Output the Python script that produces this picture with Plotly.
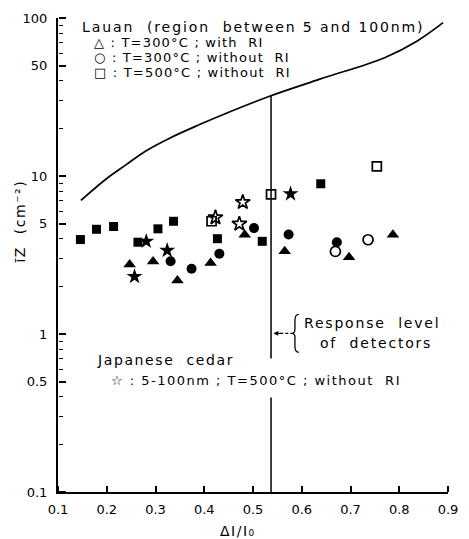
import plotly.graph_objects as go

# Envelope curve (upper bound, Lauan)
curve_x = [0.147, 0.200, 0.240, 0.280, 0.328, 0.388, 0.454, 0.534, 0.637, 0.770, 0.837, 0.890]
curve_y = [7.0, 9.64, 11.8, 14.4, 17.3, 21.0, 25.6, 32.0, 41.0, 56.1, 71.6, 93.4]

# Detector response level
detector_x = 0.537
detector_top = 32.3
detector_gap = [0.70, 0.396]

# Lauan, T=300°C with RI (filled triangles)
tri_x = [0.247, 0.295, 0.345, 0.413, 0.483, 0.565, 0.697, 0.787]
tri_y = [2.75, 2.88, 2.18, 2.81, 4.25, 3.34, 3.06, 4.25]

# Lauan, T=300°C without RI (filled circles / open circles)
circ_x = [0.331, 0.374, 0.431, 0.502, 0.573, 0.672]
circ_y = [2.89, 2.59, 3.22, 4.68, 4.26, 3.81]
circ_open_x = [0.669, 0.736]
circ_open_y = [3.33, 3.95]

# Lauan, T=500°C without RI (filled squares / open squares)
sq_x = [0.146, 0.179, 0.214, 0.264, 0.305, 0.337, 0.427, 0.519, 0.639]
sq_y = [3.96, 4.60, 4.79, 3.81, 4.63, 5.17, 4.01, 3.86, 8.93]
sq_open_x = [0.415, 0.537, 0.754]
sq_open_y = [5.17, 7.64, 11.5]

# Japanese cedar, 5-100nm, T=500°C without RI (stars)
star_x = [0.281, 0.324, 0.257, 0.577]
star_y = [3.86, 3.38, 2.31, 7.71]
star_open_x = [0.479, 0.472, 0.423]
star_open_y = [6.83, 4.98, 5.46]

x_ticks = [0.1, 0.2, 0.3, 0.4, 0.5, 0.6, 0.7, 0.8, 0.9]
x_ticklabels = ["0.1", "0.2", "0.3", "0.4", "0.5", "0.6", "0.7", "0.8", "0.9"]
y_ticks = [0.1, 0.5, 1, 5, 10, 50, 100]
y_ticklabels = ["0.1", "0.5", "1", "5", "10", "50", "100"]
y_minor = [m * d for d in (0.1, 1, 10) for m in (2, 3, 4, 6, 7, 8, 9)]

X_RANGE = [0.1, 0.9]
Y_RANGE = [-1, 2]

W, H = 469, 539
L, R, T, B = 58, 11, 17, 47
PW, PH = W - L - R, H - T - B


def px(x):
    return (x - L) / PW


def py(y):
    return (H - B - y) / PH


def spaced(text, ls):
    return f'<span style="letter-spacing:{ls}px">{text}</span>'


FONT = "DejaVu Sans"
fig = go.Figure()

# the envelope curve lives on the overlay axes that carry the inward tick marks
fig.add_trace(go.Scatter(x=curve_x, y=curve_y, mode="lines", xaxis="x2", yaxis="y2",
                         line=dict(color="black", width=1.7, shape="spline", smoothing=1.0),
                         showlegend=False, hoverinfo="skip"))
fig.add_trace(go.Scatter(x=[detector_x, detector_x, None, detector_x, detector_x],
                         y=[0.1, detector_gap[1], None, detector_gap[0], detector_top],
                         mode="lines", line=dict(color="black", width=1.5),
                         showlegend=False, hoverinfo="skip"))

mk = dict(color="black", size=10)
mk_open = dict(color="black", size=10, line=dict(color="black", width=1.7))
fig.add_trace(go.Scatter(x=tri_x, y=tri_y, mode="markers",
                         marker=dict(symbol="triangle-up", **dict(mk, size=11)), showlegend=False))
fig.add_trace(go.Scatter(x=circ_x, y=circ_y, mode="markers",
                         marker=dict(symbol="circle", **mk), showlegend=False))
fig.add_trace(go.Scatter(x=circ_open_x, y=circ_open_y, mode="markers",
                         marker=dict(symbol="circle-open", **mk_open), showlegend=False))
fig.add_trace(go.Scatter(x=sq_x, y=sq_y, mode="markers",
                         marker=dict(symbol="square", **dict(mk, size=9)), showlegend=False))
fig.add_trace(go.Scatter(x=star_open_x, y=star_open_y, mode="markers",
                         marker=dict(symbol="star-open", **dict(mk_open, size=11)), showlegend=False))
fig.add_trace(go.Scatter(x=sq_open_x, y=sq_open_y, mode="markers",
                         marker=dict(symbol="square-open", **dict(mk_open, size=9)), showlegend=False))
fig.add_trace(go.Scatter(x=star_x, y=star_y, mode="markers",
                         marker=dict(symbol="star", **dict(mk, size=12)), showlegend=False))

# text, left x (px), centre y (px), font size, letter spacing
texts = [
    ("Lauan  (region  between 5 and 100nm)", 81, 26, 14, 1.9),
    ("△ : T=300°C ; with  RI", 93, 42, 13, 1.2),
    ("○ : T=300°C ; without  RI", 93, 57, 13, 1.2),
    ("□ : T=500°C ; without  RI", 93, 72, 13, 1.2),
    ("Japanese  cedar", 96, 360, 14, 1.6),
    ("☆ : 5-100nm ; T=500°C ; without  RI", 110, 380, 13, 1.5),
    ("Response  level", 308, 323, 14, 1.8),
    ("of  detectors", 325, 343, 14, 1.8),
]
annotations = []
for t, x, y, s, ls in texts:
    annotations.append(dict(text=spaced(t, ls), x=px(x), y=py(y), xref="paper", yref="paper",
                            xanchor="left", yanchor="middle", showarrow=False,
                            font=dict(family=FONT, size=s, color="black")))

# axis titles
annotations.append(dict(text=spaced("ΔI/I₀", 1.5), x=px(243), y=py(531), xref="paper", yref="paper",
                        xanchor="center", yanchor="middle", showarrow=False,
                        font=dict(family=FONT, size=14, color="black")))
annotations.append(dict(text=spaced("īZ  (cm⁻²)", 1.5), x=px(19), y=py(221), xref="paper", yref="paper",
                        xanchor="center", yanchor="middle", showarrow=False, textangle=-90,
                        font=dict(family=FONT, size=14, color="black")))

# arrowhead pointing at the detector line
annotations.append(dict(text="", x=px(279), y=py(333), ax=9, ay=0,
                        xref="paper", yref="paper",
                        showarrow=True, arrowhead=2, arrowsize=0.8, arrowwidth=1.2,
                        arrowcolor="black"))


def P(x, y):
    return f"{px(x):.5f},{py(y):.5f}"


brace = ("M " + P(305, 314) + " Q " + P(301, 314) + " " + P(301, 320) +
         " L " + P(301, 329) + " Q " + P(301, 333) + " " + P(298, 333) +
         " Q " + P(301, 333) + " " + P(301, 337) + " L " + P(301, 346) +
         " Q " + P(301, 352) + " " + P(305, 352))

shapes = [
    dict(type="path", path=brace, xref="paper", yref="paper",
         line=dict(color="black", width=1.3)),
    dict(type="line", x0=px(286), x1=px(298), y0=py(333), y1=py(333),
         xref="paper", yref="paper", line=dict(color="black", width=1.2, dash="3px,2px")),
]

tickfont = dict(family=FONT, size=13, color="black")
fig.update_layout(
    width=W, height=H,
    margin=dict(l=L, r=R, t=T, b=B),
    paper_bgcolor="white", plot_bgcolor="white",
    font=dict(family=FONT, size=13, color="black"),
    annotations=annotations, shapes=shapes,
    # main axes: lines and labels
    xaxis=dict(range=X_RANGE, tickmode="array", tickvals=x_ticks, ticktext=x_ticklabels,
               showgrid=False, zeroline=False, showline=True, linecolor="black", linewidth=2,
               ticks="", tickfont=tickfont, ticklabelstandoff=4),
    yaxis=dict(type="log", range=Y_RANGE, tickmode="array", tickvals=y_ticks,
               ticktext=y_ticklabels, showgrid=False, zeroline=False, showline=True,
               linecolor="black", linewidth=2, ticks="", tickfont=tickfont,
               ticklabelstandoff=6),
    # overlay axes on the same edges whose outward ticks point into the plot
    xaxis2=dict(range=X_RANGE, overlaying="x", side="top", anchor="free", position=0,
                tickmode="array", tickvals=x_ticks, showticklabels=False,
                showgrid=False, zeroline=False, showline=False,
                ticks="outside", ticklen=6, tickwidth=1.6, tickcolor="black"),
    yaxis2=dict(type="log", range=Y_RANGE, overlaying="y", side="right", anchor="free",
                position=0, tickmode="array", tickvals=y_ticks, showticklabels=False,
                showgrid=False, zeroline=False, showline=False,
                ticks="outside", ticklen=7, tickwidth=1.6, tickcolor="black",
                minor=dict(ticks="outside", ticklen=4, tickwidth=1.3, tickcolor="black",
                           tickmode="array", tickvals=y_minor, showgrid=False)),
)

fig.write_html("out.html")
